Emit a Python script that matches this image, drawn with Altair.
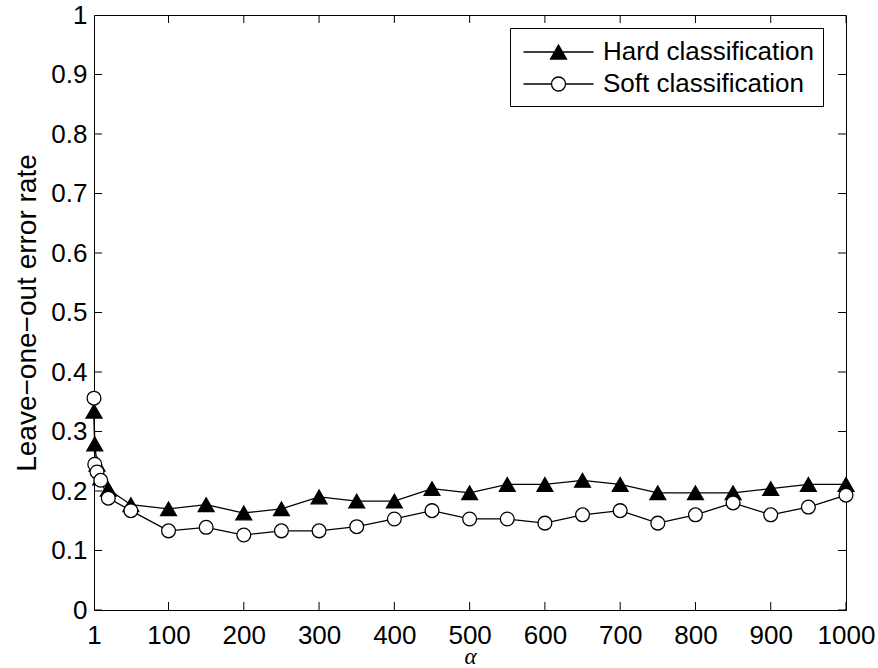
import altair as alt
import pandas as pd

alpha = [1, 2, 5, 10, 20, 50, 100, 150, 200, 250, 300, 350, 400, 450, 500,
         550, 600, 650, 700, 750, 800, 850, 900, 950, 1000]
hard = [0.334, 0.279, 0.245, 0.222, 0.203, 0.177, 0.170, 0.177, 0.163, 0.170,
        0.190, 0.183, 0.183, 0.204, 0.197, 0.211, 0.211, 0.218, 0.211, 0.197,
        0.197, 0.197, 0.204, 0.211, 0.211]
soft = [0.356, 0.245, 0.232, 0.218, 0.188, 0.167, 0.133, 0.139, 0.126, 0.133,
        0.133, 0.140, 0.153, 0.167, 0.153, 0.153, 0.146, 0.160, 0.167, 0.146,
        0.160, 0.180, 0.160, 0.173, 0.193]
series = ["Hard classification", "Soft classification"]
x_ticks = [1, 100, 200, 300, 400, 500, 600, 700, 800, 900, 1000]
y_ticks = [0, 0.1, 0.2, 0.3, 0.4, 0.5, 0.6, 0.7, 0.8, 0.9, 1]

rows = []
for a, v in zip(alpha, hard):
    rows.append({"alpha": a, "rate": v, "series": series[0]})
for a, v in zip(alpha, soft):
    rows.append({"alpha": a, "rate": v, "series": series[1]})
df = pd.DataFrame(rows)
xt = pd.DataFrame({"t": x_ticks})
yt = pd.DataFrame({"t": y_ticks})

FONT = "Liberation Sans"
W, H = 752, 595
TICK_LEN = 8

xscale = alt.Scale(domain=[1, 1000], nice=False, zero=False)
yscale = alt.Scale(domain=[0, 1], nice=False, zero=False)

base = alt.Chart(df)

lines = base.mark_line(color="black", strokeWidth=1.3).encode(
    x=alt.X("alpha:Q", scale=xscale,
            axis=alt.Axis(orient="bottom", ticks=False,
                          values=x_ticks, format="d", title="α",
                          domain=False, grid=False,
                          labelFlush=False, labelOverlap=False,
                          labelPadding=12, titlePadding=15,
                          titleBaseline="alphabetic",
                          titleFont="Liberation Serif", titleFontStyle="italic",
                          titleFontSize=23, titleFontWeight="normal")),
    y=alt.Y("rate:Q", scale=yscale,
            axis=alt.Axis(orient="left", ticks=False,
                          values=y_ticks, format=".1~f",
                          title="Leave\u2212one\u2212out error rate",
                          domain=False, grid=False,
                          labelFlush=False, labelOverlap=False,
                          labelPadding=7, titlePadding=9,
                          titleFontSize=28, titleFontWeight="normal")),
    detail="series:N",
)

# inward ticks on all four sides (half of each tick is clipped away)
tick_kw = dict(size=2 * TICK_LEN, thickness=1, color="black", opacity=1, clip=True)
x_tick_bottom = alt.Chart(xt).mark_tick(orient="vertical", **tick_kw).encode(
    x=alt.X("t:Q", scale=xscale, axis=None),
    y=alt.Y(datum=0, scale=yscale, axis=None),
)
x_tick_top = alt.Chart(xt).mark_tick(orient="vertical", **tick_kw).encode(
    x=alt.X("t:Q", scale=xscale, axis=None),
    y=alt.Y(datum=1, scale=yscale, axis=None),
)
y_tick_left = alt.Chart(yt).mark_tick(orient="horizontal", **tick_kw).encode(
    y=alt.Y("t:Q", scale=yscale, axis=None),
    x=alt.X(datum=1, scale=xscale, axis=None),
)
y_tick_right = alt.Chart(yt).mark_tick(orient="horizontal", **tick_kw).encode(
    y=alt.Y("t:Q", scale=yscale, axis=None),
    x=alt.X(datum=1000, scale=xscale, axis=None),
)

points = base.mark_point(filled=True, stroke="black", strokeWidth=1.3,
                         opacity=1).encode(
    x=alt.X("alpha:Q", scale=xscale, axis=None),
    y=alt.Y("rate:Q", scale=yscale, axis=None),
    shape=alt.Shape("series:N",
                    scale=alt.Scale(domain=series, range=["triangle-up", "circle"]),
                    legend=None),
    fill=alt.Fill("series:N",
                  scale=alt.Scale(domain=series, range=["black", "white"]),
                  legend=None),
    size=alt.Size("series:N",
                  scale=alt.Scale(domain=series, range=[250, 190]),
                  legend=None),
)

hard_path = "M-0.75,0H4.25M1.75,-0.5L2.321,0.5L1.179,0.5Z"
soft_path = ("M-0.75,0H1.25M2.25,0H4.25M1.25,0A0.5,0.5,0,1,0,2.25,0"
             "A0.5,0.5,0,1,0,1.25,0Z")

leg = dict(title=None, orient="none", legendX=416, legendY=13,
           direction="vertical", labelFont=FONT, labelFontSize=26,
           labelColor="black", labelLimit=500, symbolSize=784,
           symbolStrokeWidth=1.3, symbolOpacity=1, labelOffset=54,
           rowPadding=4, padding=9, strokeColor="black", fillColor="white")

legend_layer = base.transform_filter("datum.alpha < 0").mark_point(
    filled=True, strokeWidth=1.3, opacity=1).encode(
    x=alt.X("alpha:Q", scale=xscale, axis=None),
    y=alt.Y("rate:Q", scale=yscale, axis=None),
    shape=alt.Shape("series:N",
                    scale=alt.Scale(domain=series, range=[hard_path, soft_path]),
                    legend=alt.Legend(**leg)),
    fill=alt.Fill("series:N",
                  scale=alt.Scale(domain=series, range=["black", "white"]),
                  legend=alt.Legend(**leg)),
    stroke=alt.Stroke("series:N",
                      scale=alt.Scale(domain=series, range=["black", "black"]),
                      legend=alt.Legend(**leg)),
)

chart = alt.layer(
    lines, x_tick_bottom, x_tick_top, y_tick_left, y_tick_right,
    points, legend_layer
).resolve_axis(
    x="independent", y="independent"
).resolve_scale(
    shape="independent", fill="independent", stroke="independent"
).properties(
    width=W, height=H,
    autosize=alt.AutoSizeParams(type="none"),
    padding={"left": 94, "top": 15, "right": 32, "bottom": 58},
    background="white",
).configure_view(
    stroke="black", strokeWidth=1
).configure_axis(
    labelFont=FONT, labelFontSize=26, labelColor="black",
    titleFont=FONT, titleFontSize=24, titleColor="black",
).configure_legend(
    strokeWidth=1, cornerRadius=0
)

chart.save("out.html", embed_options={"renderer": "svg", "actions": False})
